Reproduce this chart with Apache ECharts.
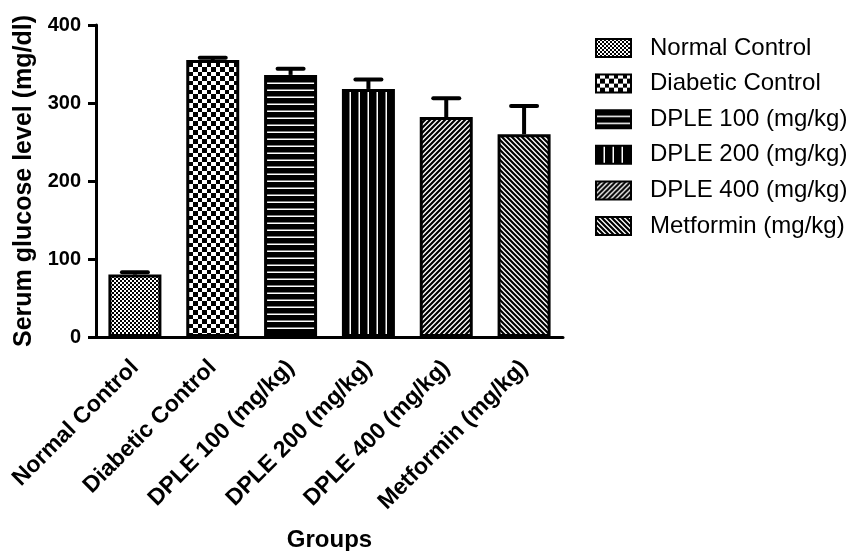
<!DOCTYPE html>
<html><head><meta charset="utf-8">
<script src="https://cdn.jsdelivr.net/npm/echarts@6/dist/echarts.min.js"></script>
<style>html,body{margin:0;padding:0;background:#fff}#c{width:858px;height:551px}</style>
</head><body><div id="c"></div>
<script>
const categories = ['Normal Control','Diabetic Control','DPLE 100 (mg/kg)','DPLE 200 (mg/kg)','DPLE 400 (mg/kg)','Metformin (mg/kg)'];
const seriesNames = ['Normal Control','Diabetic Control','DPLE 100 (mg/kg)','DPLE 200 (mg/kg)','DPLE 400 (mg/kg)','Metformin (mg/kg)'];
const means = [80, 355, 336, 318, 282, 260];
const errors = [3, 3, 8, 12, 24, 36];
const yTicks = [0, 100, 200, 300, 400];

function tile(w, h, draw) {
  const c = document.createElement('canvas');
  c.width = w; c.height = h;
  const g = c.getContext('2d');
  g.fillStyle = '#fff'; g.fillRect(0, 0, w, h);
  g.fillStyle = '#000'; g.strokeStyle = '#000';
  draw(g, w, h);
  return {image: c, repeat: 'repeat'};
}
const patterns = [
  tile(4, 4, g => { g.fillRect(0,0,2,2); g.fillRect(2,2,2,2); }),
  tile(9, 9, g => { g.fillRect(0,0,4,4); g.fillRect(4,4,5,5); }),
  tile(4, 7, g => { g.fillRect(0,0,4,5.5); }),
  tile(9, 4, g => { g.fillRect(0,0,7.5,4); }),
  tile(5, 5, g => { g.lineWidth = 2.2; g.beginPath(); for (let k=-1;k<=1;k++){ g.moveTo(-1+k*5,6); g.lineTo(6+k*5,-1);} g.stroke(); }),
  tile(5, 5, g => { g.lineWidth = 2.2; g.beginPath(); for (let k=-1;k<=1;k++){ g.moveTo(-1+k*5,-1); g.lineTo(6+k*5,6);} g.stroke(); })
];

const font = '"Liberation Sans", Arial, sans-serif';
const barSeries = seriesNames.map((name, i) => ({
  name: name,
  type: 'bar',
  barWidth: 53,
  barGap: '-100%',
  data: categories.map((c, j) => j === i ? means[j] : '-'),
  itemStyle: { color: patterns[i], borderColor: '#000', borderWidth: 3 }
}));

const errSeries = {
  type: 'custom',
  name: 'err',
  z: 5,
  data: means.map((m, i) => [i, m, m + errors[i]]),
  renderItem: function (params, api) {
    const p0 = api.coord([api.value(0), api.value(1)]);
    const p1 = api.coord([api.value(0), api.value(2)]);
    const x = p0[0];
    return {
      type: 'group',
      children: [
        { type: 'line', shape: { x1: x, y1: p0[1], x2: x, y2: p1[1] }, style: { stroke: '#000', lineWidth: 4 } },
        { type: 'line', shape: { x1: x - 13, y1: p1[1], x2: x + 13, y2: p1[1] }, style: { stroke: '#000', lineWidth: 4, lineCap: 'round' } }
      ]
    };
  }
};

const chart = echarts.init(document.getElementById('c'));
chart.setOption({
  animation: false,
  backgroundColor: '#fff',
  grid: { left: 96, right: 295, top: 25, bottom: 214, containLabel: false, outerBoundsMode: 'none' },
  legend: {
    data: seriesNames,
    orient: 'vertical',
    left: 590, top: 31,
    itemWidth: 35, itemHeight: 18,
    itemGap: 11.6,
    icon: 'rect',
    textStyle: { fontFamily: font, fontSize: 24, color: '#000', padding: [0,0,0,14] }
  },
  xAxis: {
    type: 'category',
    data: categories,
    name: 'Groups',
    nameLocation: 'middle',
    nameGap: 191,
    nameTextStyle: { fontFamily: font, fontSize: 24, fontWeight: 'bold', color: '#000' },
    axisLine: { lineStyle: { color: '#000', width: 3 } },
    axisTick: { alignWithLabel: true, length: 8, lineStyle: { color: '#000', width: 3 } },
    axisLabel: { rotate: 45, margin: 27, fontFamily: font, fontSize: 23, fontWeight: 'bold', color: '#000', interval: 0 }
  },
  yAxis: {
    type: 'value',
    min: yTicks[0], max: yTicks[yTicks.length - 1], interval: 100,
    name: 'Serum glucose level (mg/dl)',
    nameLocation: 'middle',
    nameGap: 58,
    nameTextStyle: { fontFamily: font, fontSize: 25, fontWeight: 'bold', color: '#000' },
    splitLine: { show: false },
    axisLine: { show: true, lineStyle: { color: '#000', width: 3 } },
    axisTick: { show: true, length: 8, lineStyle: { color: '#000', width: 3 } },
    axisLabel: { margin: 15, fontFamily: font, fontSize: 20, fontWeight: 'bold', color: '#000' }
  },
  series: barSeries.concat([errSeries])
});
</script></body></html>
